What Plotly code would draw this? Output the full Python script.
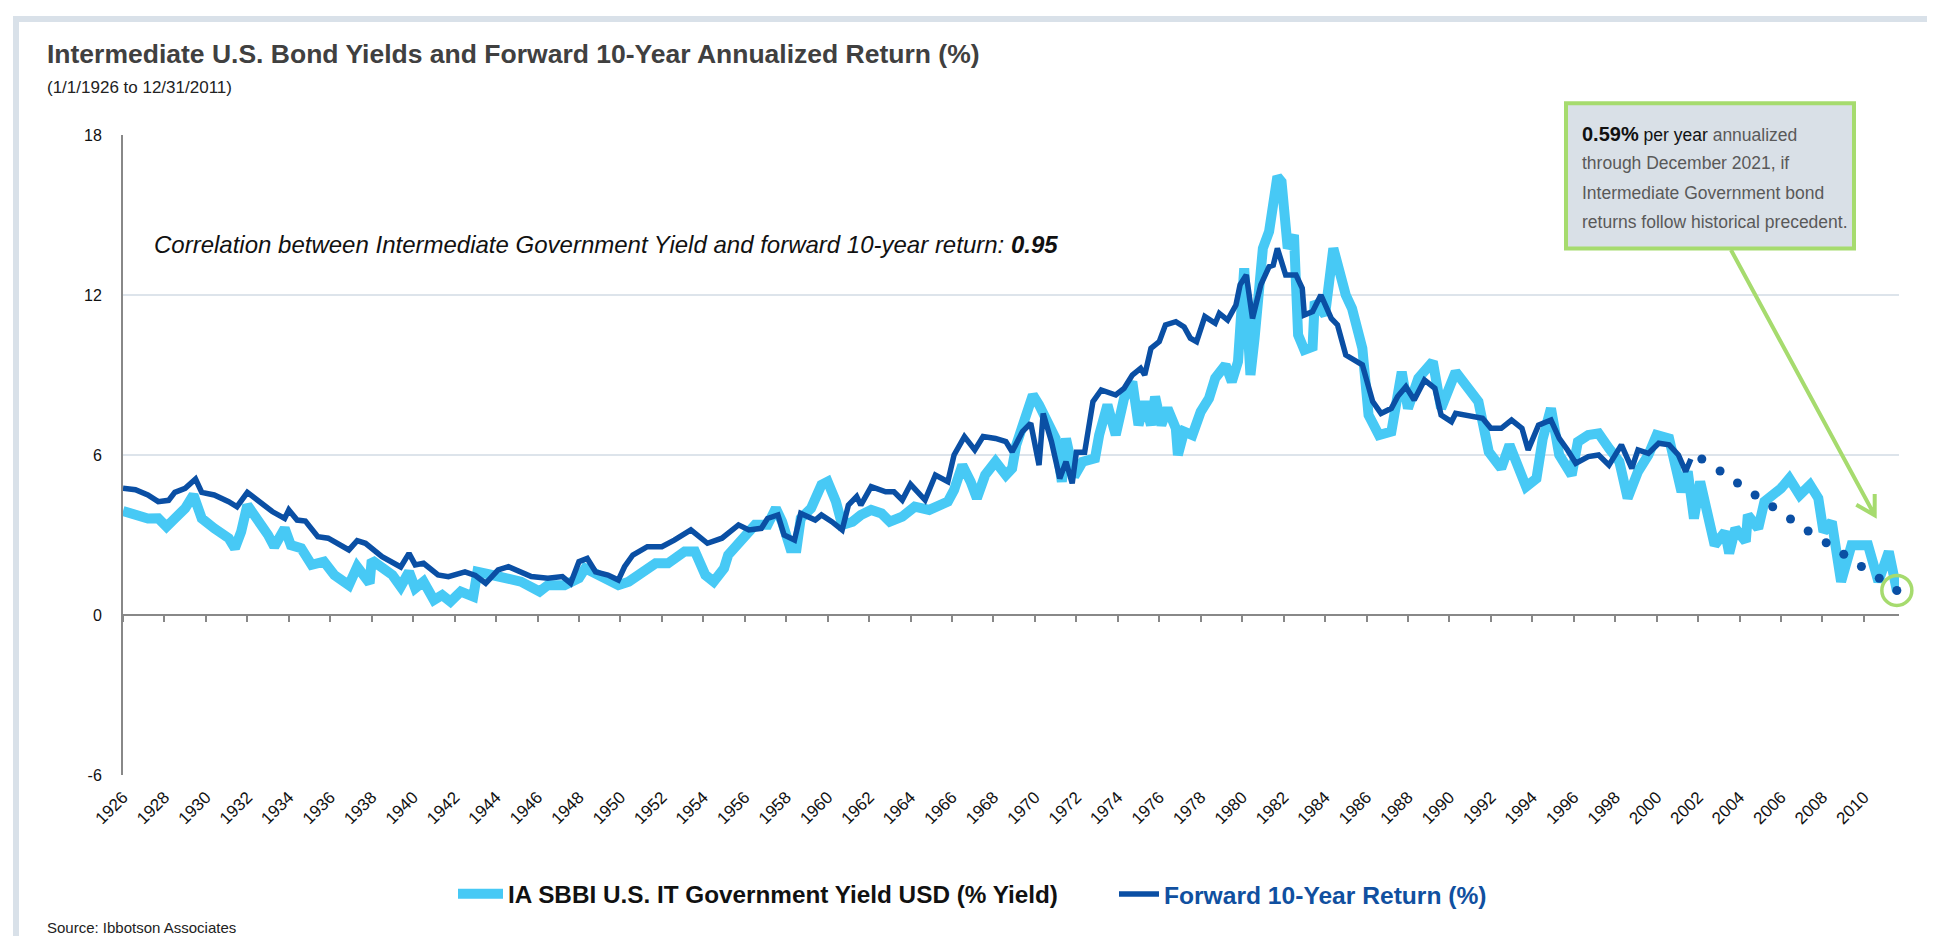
import plotly.graph_objects as go

# ---------------- data ----------------
yield_years = [1926.0, 1926.5, 1927.2, 1927.7, 1928.1, 1928.5, 1929.0, 1929.4, 1929.8, 1930.4,
               1931.1, 1931.4, 1931.7, 1932.0, 1932.5, 1933.0, 1933.3, 1933.8, 1934.1, 1934.6,
               1935.1, 1935.7, 1936.2, 1936.9, 1937.3, 1937.9, 1938.0, 1938.5, 1939.0, 1939.4,
               1939.8, 1940.1, 1940.5, 1941.0, 1941.4, 1941.8, 1942.3, 1942.9, 1943.1, 1943.8,
               1944.6, 1945.2, 1946.1, 1946.5, 1947.3, 1948.0, 1948.3, 1948.9, 1949.5, 1949.9,
               1950.4, 1951.0, 1951.7, 1952.3, 1953.1, 1953.6, 1954.1, 1954.5, 1955.0, 1955.2,
               1955.8, 1956.5, 1957.1, 1957.5, 1957.8, 1958.2, 1958.5, 1958.7, 1959.2, 1959.7,
               1960.0, 1960.4, 1960.7, 1961.2, 1961.6, 1962.1, 1962.6, 1963.0, 1963.6, 1964.2,
               1964.9, 1965.5, 1965.8, 1966.1, 1966.5, 1966.9, 1967.2, 1967.6, 1968.1, 1968.6,
               1968.9, 1969.1, 1969.5, 1969.9, 1970.2, 1970.5, 1971.0, 1971.3, 1971.5, 1971.9,
               1972.3, 1972.9, 1973.1, 1973.5, 1973.9, 1974.3, 1974.7, 1975.0, 1975.3, 1975.6,
               1975.8, 1976.1, 1976.4, 1976.8, 1976.9, 1977.2, 1977.6, 1978.0, 1978.4, 1978.7,
               1979.2, 1979.5, 1979.8, 1980.1, 1980.4, 1980.6, 1981.0, 1981.3, 1981.7, 1981.9,
               1982.2, 1982.5, 1982.7, 1983.0, 1983.4, 1983.5, 1984.0, 1984.4, 1984.7, 1985.0,
               1985.3, 1985.8, 1986.1, 1986.6, 1987.2, 1987.7, 1988.0, 1988.5, 1989.2, 1989.6,
               1990.3, 1990.9, 1991.4, 1991.9, 1992.5, 1992.9, 1993.4, 1993.7, 1994.2, 1994.5,
               1994.9, 1995.3, 1995.9, 1996.2, 1996.7, 1997.2, 1997.7, 1998.2, 1998.6, 1999.1,
               1999.6, 2000.0, 2000.6, 2000.9, 2001.2, 2001.5, 2001.8, 2002.1, 2002.5, 2002.8,
               2003.3, 2003.5, 2003.8, 2004.3, 2004.4, 2004.9, 2005.2, 2005.7, 2006.0, 2006.4,
               2006.9, 2007.4, 2007.8, 2008.05, 2008.45, 2008.9, 2009.4, 2010.2, 2010.7, 2011.2,
               2011.6]
yield_vals = [3.9, 3.8, 3.62, 3.63, 3.31, 3.62, 4.0, 4.5, 3.62, 3.25,
              2.88, 2.5, 3.12, 4.12, 3.62, 3.0, 2.56, 3.25, 2.62, 2.5,
              1.88, 2.0, 1.5, 1.12, 1.81, 1.19, 2.06, 1.75, 1.5, 1.06,
              1.62, 1.0, 1.25, 0.56, 0.75, 0.5, 0.88, 0.69, 1.62, 1.5,
              1.38, 1.25, 0.88, 1.12, 1.12, 1.38, 1.75, 1.5, 1.2, 1.12,
              1.25, 1.62, 1.94, 1.94, 2.38, 2.38, 1.5, 1.25, 1.75, 2.25,
              2.75, 3.38, 3.38, 4.0, 3.5, 2.5, 2.5, 3.62, 4.0, 4.88,
              5.0, 4.25, 3.38, 3.5, 3.75, 3.94, 3.81, 3.5, 3.69, 4.06,
              3.94, 4.12, 4.25, 4.69, 5.62, 5.0, 4.38, 5.25, 5.75, 5.25,
              5.5, 6.38, 7.38, 8.25, 7.88, 7.38, 6.62, 5.0, 6.62, 5.2,
              5.75, 5.88, 6.75, 7.88, 6.75, 8.12, 8.75, 7.12, 8.0, 7.12,
              8.19, 7.12, 7.75, 7.0, 6.0, 6.88, 6.75, 7.62, 8.12, 8.88,
              9.38, 8.75, 9.5, 13.0, 9.0, 10.38, 13.75, 14.38, 16.44, 16.25,
              13.75, 14.25, 10.5, 9.94, 10.06, 11.75, 11.25, 13.75, 12.88, 12.0,
              11.5, 10.0, 7.5, 6.75, 6.88, 9.12, 7.75, 8.88, 9.5, 7.75,
              9.12, 8.5, 8.0, 6.12, 5.5, 6.38, 5.5, 4.81, 5.12, 6.6,
              7.75, 6.0, 5.25, 6.5, 6.75, 6.81, 6.25, 5.75, 4.38, 5.38,
              6.0, 6.75, 6.62, 5.38, 4.62, 5.38, 3.62, 5.0, 3.38, 2.62,
              3.12, 2.31, 3.25, 2.75, 3.75, 3.25, 4.25, 4.5, 4.75, 5.12,
              4.5, 4.88, 4.38, 3.12, 3.5, 1.25, 2.62, 2.62, 1.25, 2.38,
              0.88]

fwd_years = [1926.0, 1926.6, 1927.2, 1927.7, 1928.2, 1928.5, 1929.0, 1929.5, 1929.8, 1930.4,
             1931.1, 1931.5, 1932.0, 1932.7, 1933.2, 1933.8, 1934.0, 1934.4, 1934.8, 1935.4,
             1935.9, 1936.9, 1937.3, 1937.7, 1938.5, 1939.4, 1939.8, 1940.1, 1940.5, 1941.2,
             1941.7, 1942.5, 1943.0, 1943.5, 1944.1, 1944.6, 1945.1, 1945.7, 1946.5, 1947.2,
             1947.6, 1948.0, 1948.4, 1948.8, 1949.4, 1949.9, 1950.2, 1950.6, 1951.3, 1952.0,
             1952.6, 1953.4, 1954.2, 1954.9, 1955.7, 1956.2, 1956.8, 1957.1, 1957.6, 1957.9,
             1958.4, 1958.7, 1959.4, 1959.7, 1960.2, 1960.7, 1961.0, 1961.4, 1961.6, 1962.1,
             1962.8, 1963.2, 1963.6, 1964.0, 1964.7, 1965.2, 1965.8, 1966.1, 1966.6, 1967.1,
             1967.5, 1968.1, 1968.6, 1968.9, 1969.4, 1969.8, 1970.2, 1970.4, 1970.8, 1971.2,
             1971.5, 1971.8, 1972.0, 1972.4, 1972.8, 1973.2, 1973.9, 1974.3, 1974.7, 1975.1,
             1975.3, 1975.6, 1976.0, 1976.3, 1976.8, 1977.2, 1977.5, 1977.8, 1978.2, 1978.7,
             1978.9, 1979.3, 1979.7, 1979.9, 1980.2, 1980.5, 1980.9, 1981.3, 1981.5, 1981.7,
             1982.1, 1982.6, 1982.9, 1983.0, 1983.4, 1983.8, 1984.3, 1984.6, 1985.0, 1985.3,
             1985.8, 1986.3, 1986.7, 1987.2, 1987.5, 1987.9, 1988.3, 1988.8, 1989.3, 1989.6,
             1990.1, 1990.3, 1990.9, 1991.6, 1992.0, 1992.5, 1993.0, 1993.5, 1993.8, 1994.3,
             1994.9, 1995.3, 1995.7, 1996.1, 1996.7, 1997.2, 1997.7, 1998.3, 1998.8, 1999.1,
             1999.6, 2000.1, 2000.6, 2001.05, 2001.4, 2001.65]
fwd_vals = [4.75, 4.7, 4.5, 4.25, 4.3, 4.6, 4.75, 5.1, 4.6, 4.5,
            4.25, 4.06, 4.6, 4.19, 3.88, 3.62, 3.94, 3.56, 3.52, 2.94,
            2.88, 2.44, 2.79, 2.69, 2.19, 1.8, 2.31, 1.88, 1.94, 1.5,
            1.44, 1.62, 1.48, 1.19, 1.69, 1.81, 1.62, 1.44, 1.38, 1.44,
            1.19, 2.0, 2.12, 1.62, 1.5, 1.31, 1.81, 2.25, 2.56, 2.56,
            2.81, 3.19, 2.69, 2.88, 3.38, 3.19, 3.25, 3.62, 3.75, 3.0,
            2.81, 3.81, 3.56, 3.75, 3.5, 3.19, 4.12, 4.44, 4.12, 4.81,
            4.62, 4.62, 4.31, 4.9, 4.31, 5.25, 5.0, 6.0, 6.69, 6.19,
            6.69, 6.62, 6.5, 6.12, 6.88, 7.19, 5.62, 7.56, 6.5, 5.12,
            5.75, 4.94, 6.1, 6.1, 8.0, 8.44, 8.25, 8.5, 9.0, 9.25,
            9.0, 10.0, 10.25, 10.88, 11.0, 10.8, 10.38, 10.25, 11.19, 10.94,
            11.31, 11.06, 11.62, 12.38, 12.75, 11.12, 12.38, 13.06, 13.12, 13.75,
            12.75, 12.75, 12.25, 11.25, 11.38, 12.0, 11.12, 10.88, 9.75, 9.62,
            9.38, 8.0, 7.56, 7.75, 8.19, 8.56, 8.06, 8.81, 8.5, 7.5,
            7.25, 7.56, 7.5, 7.38, 7.0, 7.0, 7.31, 7.0, 6.19, 7.12,
            7.31, 6.62, 6.19, 5.69, 5.94, 6.0, 5.62, 6.38, 5.5, 6.19,
            6.06, 6.44, 6.38, 6.0, 5.38, 5.85]

proj_years = [2002.18, 2003.06, 2003.9, 2004.75, 2005.6, 2006.46, 2007.31, 2008.18,
              2009.03, 2009.88, 2010.74, 2011.59]
proj_vals = [5.85, 5.4, 4.95, 4.5, 4.06, 3.6, 3.15, 2.71, 2.28, 1.82, 1.38, 0.92]

tick_years = list(range(1926, 2011, 2))
tick_labels = [str(y) for y in tick_years]
y_ticks = [-6, 0, 6, 12, 18]
y_tick_labels = ["-6", "0", "6", "12", "18"]

# ---------------- styling ----------------
LIGHT = "#47c9f5"
DARK = "#0a4fa4"
GREEN = "#a6db6e"
FRAME = "#d9e1e9"
FONT = "Liberation Sans, Arial, sans-serif"

W, H = 1935, 936
L, R, T, B = 115, 1891, 127, 767
X_RANGE = [1926, 1926 + (R - L) / 20.725]
Y_RANGE = [-6, 18]


def px_x(px):
    return (px - L) / (R - L)


def px_y(py):
    return (B - py) / (B - T)


fig = go.Figure()
fig.add_trace(go.Scatter(x=yield_years, y=yield_vals, mode="lines",
                         line=dict(color=LIGHT, width=10),
                         name="IA SBBI U.S. IT Government Yield USD (% Yield)",
                         legend="legend", hoverinfo="skip"))
fig.add_trace(go.Scatter(x=fwd_years, y=fwd_vals, mode="lines",
                         line=dict(color=DARK, width=5.5),
                         name="Forward 10-Year Return (%)",
                         legend="legend2", hoverinfo="skip"))
fig.add_trace(go.Scatter(x=proj_years, y=proj_vals, mode="markers", xaxis="x2",
                         marker=dict(color=DARK, size=9), showlegend=False,
                         cliponaxis=False, hoverinfo="skip"))

shapes = []
# page frame
shapes.append(dict(type="rect", xref="paper", yref="paper",
                   x0=px_x(8), x1=px_x(1928), y0=px_y(975), y1=px_y(11),
                   line=dict(color=FRAME, width=6), fillcolor="rgba(0,0,0,0)",
                   layer="below"))
# callout box
shapes.append(dict(type="rect", xref="paper", yref="paper",
                   x0=px_x(1558), x1=px_x(1846), y0=px_y(240.5), y1=px_y(95.3),
                   line=dict(color=GREEN, width=4), fillcolor="#d9e0e7", layer="above"))
# arrow shaft + open head
sx, sy = 1723, 242
tx, ty = 1866.7, 507.3
a1 = (1866.7, 486)
a2 = (1848.3, 496.7)
shapes.append(dict(type="path", xref="paper", yref="paper",
                   path=(f"M {px_x(sx)},{px_y(sy)} L {px_x(tx)},{px_y(ty)} "
                         f"M {px_x(a1[0])},{px_y(a1[1])} L {px_x(tx)},{px_y(ty)} "
                         f"L {px_x(a2[0])},{px_y(a2[1])}"),
                   line=dict(color=GREEN, width=4), layer="above"))
# circle around the last projected value (paper coords so it is not clipped)
cx = (proj_years[-1] - X_RANGE[0]) / (X_RANGE[1] - X_RANGE[0])
cy = (proj_vals[-1] - Y_RANGE[0]) / (Y_RANGE[1] - Y_RANGE[0])
shapes.append(dict(type="circle", xref="paper", yref="paper",
                   xsizemode="pixel", ysizemode="pixel", xanchor=cx, yanchor=cy,
                   x0=-15, x1=15, y0=-15, y1=15,
                   line=dict(color=GREEN, width=3.5), layer="above"))

annotations = [
    dict(text="<b>Intermediate U.S. Bond Yields and Forward 10-Year Annualized Return (%)</b>",
         x=px_x(37), y=px_y(46), xref="paper", yref="paper", xanchor="left", yanchor="middle",
         showarrow=False, font=dict(family=FONT, size=26.5, color="#404040")),
    dict(text="(1/1/1926 to 12/31/2011)",
         x=px_x(37), y=px_y(79), xref="paper", yref="paper", xanchor="left", yanchor="middle",
         showarrow=False, font=dict(family=FONT, size=17, color="#222222")),
    dict(text="<i>Correlation between Intermediate Government Yield and forward 10-year return: <b>0.95</b></i>",
         x=px_x(144), y=px_y(236), xref="paper", yref="paper", xanchor="left", yanchor="middle",
         showarrow=False, font=dict(family=FONT, size=24, color="#111111")),
    dict(text="Source: Ibbotson Associates",
         x=px_x(37), y=px_y(919), xref="paper", yref="paper", xanchor="left", yanchor="middle",
         showarrow=False, font=dict(family=FONT, size=15, color="#222222")),
]
callout_lines = [
    "<span style='font-size:20px;color:#111111'><b>0.59%</b></span> "
    "<span style='color:#111111'>per year</span> annualized",
    "through December 2021, if",
    "Intermediate Government bond",
    "returns follow historical precedent.",
]
callout_y = [125.7, 155, 184.5, 214]
for txt, yy in zip(callout_lines, callout_y):
    annotations.append(dict(text=txt, x=px_x(1572), y=px_y(yy), xref="paper", yref="paper",
                            xanchor="left", yanchor="middle", showarrow=False,
                            font=dict(family=FONT, size=17.5, color="#595959")))

fig.update_layout(
    width=W, height=H,
    margin=dict(l=L, r=W - R, t=T, b=H - B, pad=0),
    paper_bgcolor="white", plot_bgcolor="white",
    showlegend=True,
    legend=dict(orientation="h", x=px_x(445), y=px_y(886), xanchor="left", yanchor="middle",
                font=dict(family=FONT, size=24.3, color="#111111", weight="bold"),
                bgcolor="rgba(0,0,0,0)", itemwidth=45),
    legend2=dict(orientation="h", x=px_x(1106), y=px_y(886), xanchor="left", yanchor="middle",
                 font=dict(family=FONT, size=24.6, color="#1050a0", weight="bold"),
                 bgcolor="rgba(0,0,0,0)", itemwidth=40),
    xaxis=dict(range=X_RANGE, tickmode="array", tickvals=tick_years, ticktext=tick_labels,
               tickangle=-45, showgrid=False, showline=False, zeroline=False, ticks="",
               tickfont=dict(family=FONT, size=17, color="#111111"), ticklabelstandoff=8),
    xaxis2=dict(range=X_RANGE, overlaying="x", anchor="free", position=0.25, side="bottom",
                tickmode="array", tickvals=tick_years, showticklabels=False, showgrid=False,
                zeroline=False, showline=True, linecolor="#888888", linewidth=2,
                ticks="outside", ticklen=6, tickwidth=2, tickcolor="#888888"),
    yaxis=dict(range=Y_RANGE, tickmode="array", tickvals=y_ticks, ticktext=y_tick_labels,
               showgrid=True, gridcolor="#dde4eb", gridwidth=2, zeroline=False, showline=True,
               linecolor="#888888", linewidth=2, ticks="", ticklabelstandoff=16,
               tickfont=dict(family=FONT, size=16, color="#111111")),
    shapes=shapes,
    annotations=annotations,
)

fig.write_html("out.html")
